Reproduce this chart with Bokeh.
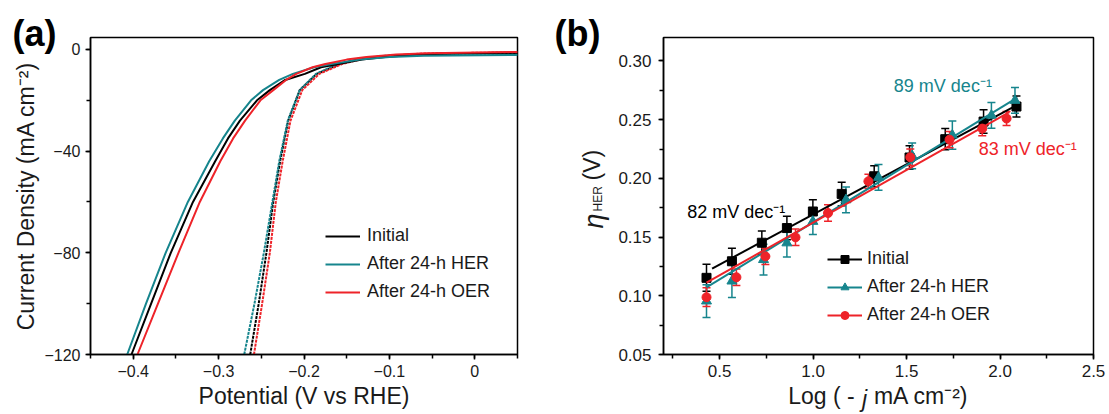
import math
from bokeh.plotting import figure
from bokeh.models import (Range1d, SingleIntervalTicker, CustomJSTickFormatter, NumeralTickFormatter,
                          Label, Legend, LegendItem, ColumnDataSource, Whisker, TeeHead, Title)
from bokeh.layouts import row
from bokeh.embed import file_html
from bokeh.resources import INLINE

FONT = "Liberation Sans"
BLACK = "#000000"
TEAL = "#16858d"
RED = "#ee2329"

# ---------------- Panel (a): polarization curves ----------------
a_init_j = [-120, -100, -80, -60, -44, -35, -28, -20, -16, -12, -9.6, -7, -5.7, -4, -3, -2, -1.5, -1.3]
a_init_v = [-0.402, -0.379, -0.356, -0.330, -0.304, -0.289, -0.275, -0.255, -0.240, -0.222, -0.199, -0.180,
            -0.160, -0.132, -0.105, -0.065, -0.020, 0.05]
a_her_j = [-120, -100, -80, -60, -44, -35, -28, -20, -16, -12, -9.6, -7, -5.7, -4, -3, -2.5, -2.2]
a_her_v = [-0.407, -0.385, -0.362, -0.336, -0.311, -0.295, -0.281, -0.262, -0.248, -0.229, -0.213, -0.188,
           -0.168, -0.135, -0.100, -0.060, 0.05]
a_oer_j = [-120, -100, -80, -60, -44, -35, -28, -20, -16, -12, -9.6, -7, -5.7, -4, -3, -2, -1.5, -1.0]
a_oer_v = [-0.395, -0.371, -0.347, -0.322, -0.298, -0.283, -0.269, -0.251, -0.236, -0.221, -0.209, -0.190,
           -0.175, -0.150, -0.127, -0.092, -0.055, 0.05]
d_init_j = [-120, -100, -80, -60, -44, -28, -16, -9.6, -5.7, -3.7, -2.5, -1.8, -1.4]
d_init_v = [-0.263, -0.253, -0.244, -0.236, -0.228, -0.2185, -0.205, -0.185, -0.158, -0.135, -0.100, -0.060, 0.05]
d_her_j = [-120, -100, -80, -60, -44, -28, -16, -9.6, -5.7, -3.7, -2.5, -2.1, -2.0]
d_her_v = [-0.270, -0.258, -0.247, -0.237, -0.229, -0.219, -0.205, -0.186, -0.160, -0.137, -0.105, -0.050, 0.05]
d_oer_j = [-120, -100, -80, -60, -44, -28, -16, -9.6, -5.7, -3.7, -2.5, -1.6, -1.1]
d_oer_v = [-0.2586, -0.249, -0.240, -0.233, -0.225, -0.2158, -0.202, -0.182, -0.155, -0.132, -0.100, -0.060, 0.05]

legend_labels = ["Initial", "After 24-h HER", "After 24-h OER"]

# ---------------- Panel (b): Tafel data ----------------
b_init_x = [0.43, 0.566, 0.726, 0.86, 0.999, 1.153, 1.327, 1.516, 1.707, 1.912, 2.088]
b_init_y = [0.1153, 0.1294, 0.1452, 0.1577, 0.1718, 0.1868, 0.2018, 0.2178, 0.2334, 0.2484, 0.2612]
b_init_e = [0.0115, 0.011, 0.010, 0.010, 0.010, 0.010, 0.009, 0.010, 0.009, 0.010, 0.009]
b_her_x = [0.43, 0.566, 0.735, 0.86, 0.999, 1.176, 1.35, 1.53, 1.745, 1.954, 2.08]
b_her_y = [0.0955, 0.1125, 0.1308, 0.145, 0.1633, 0.1817, 0.2008, 0.2192, 0.2368, 0.2537, 0.2664]
b_her_e = [0.014, 0.014, 0.013, 0.012, 0.011, 0.011, 0.011, 0.011, 0.012, 0.011, 0.011]
b_oer_x = [0.43, 0.59, 0.745, 0.906, 1.08, 1.296, 1.52, 1.73, 1.905, 2.035]
b_oer_y = [0.0988, 0.1158, 0.1336, 0.1498, 0.1705, 0.1975, 0.218, 0.233, 0.2424, 0.2510]
b_oer_e = [0.008, 0.007, 0.007, 0.007, 0.007, 0.006, 0.007, 0.007, 0.006, 0.006]
fit_init_x = [0.46, 2.09]
fit_init_y = [0.1232, 0.2625]
fit_her_x = [0.43, 2.09]
fit_her_y = [0.1072, 0.2685]
fit_oer_x = [0.43, 2.05]
fit_oer_y = [0.1112, 0.2565]
slope_texts = ["82 mV dec\u207b\u00b9", "89 mV dec\u207b\u00b9", "83 mV dec\u207b\u00b9"]
slope_pos_x = [0.327, 1.432, 1.886]
slope_pos_y = [0.171, 0.2786, 0.2249]


def style(p, tick_size):
    p.xgrid.visible = False
    p.ygrid.visible = False
    p.outline_line_color = "black"
    p.outline_line_width = 1.5
    p.outline_line_alpha = 1.0
    for ax in (p.xaxis[0], p.yaxis[0]):
        ax.axis_line_width = 1.5
        ax.axis_line_color = "black"
        ax.major_tick_line_width = 1.5
        ax.minor_tick_line_width = 1.5
        ax.major_tick_line_color = "black"
        ax.minor_tick_line_color = "black"
        ax.major_tick_in = 0
        ax.major_tick_out = 5
        ax.minor_tick_in = 0
        ax.minor_tick_out = 4
        ax.major_label_text_font = FONT
        ax.major_label_text_font_size = tick_size
        ax.major_label_text_color = "#1a1a1a"
        ax.axis_label_text_font = FONT
        ax.axis_label_text_font_size = "23px"
        ax.axis_label_text_font_style = "normal"
        ax.axis_label_text_color = "#1a1a1a"
    p.xaxis.major_label_standoff = 5
    p.xaxis.axis_label_standoff = 3


def side_text(p, place, x, y, text, size, color="#1a1a1a", style_="normal", angle=0.0, align="left",
              baseline="alphabetic"):
    p.add_layout(Label(x=x, y=y, x_units="data", y_units="data", text=text, text_font=FONT,
                       text_font_size=size, text_color=color, text_font_style=style_, angle=angle,
                       text_align=align, text_baseline=baseline), place)


def panel_tag(p, text, offset):
    p.add_layout(Title(text=text, align="left", offset=offset, standoff=-32, text_font=FONT,
                       text_font_size="36px", text_font_style="bold", text_color="black"), "above")


H = 414
# ---------------- figure (a) ----------------
pa = figure(width=519, height=H, output_backend="svg", toolbar_location=None,
            x_range=Range1d(-0.45, 0.05), y_range=Range1d(-120, 4.7),
            min_border_left=90, min_border_right=2, min_border_top=37, min_border_bottom=60,
            background_fill_color="white", border_fill_color="white")
style(pa, "16px")
pa.xaxis.ticker = SingleIntervalTicker(interval=0.1, num_minor_ticks=2)
pa.yaxis.ticker = SingleIntervalTicker(interval=40, num_minor_ticks=2)
pa.xaxis.formatter = CustomJSTickFormatter(
    code="if (Math.abs(tick) < 1e-9) { return '0'; } return tick.toFixed(1).replace('-', '\u2212');")
pa.yaxis.formatter = CustomJSTickFormatter(
    code="return Math.round(tick).toString().replace('-', '\u2212');")
pa.yaxis.major_label_standoff = 5
pa.xaxis.axis_label = "Potential (V vs RHE)"
pa.yaxis.axis_label = "Current Density (mA cm\u207b\u00b2)"
pa.yaxis.axis_label_standoff = 2

dash = "3 1"
pa.line(d_init_v, d_init_j, line_color=BLACK, line_width=2, line_dash=dash)
pa.line(d_her_v, d_her_j, line_color=TEAL, line_width=2, line_dash=dash)
pa.line(d_oer_v, d_oer_j, line_color=RED, line_width=2, line_dash=dash)
ra1 = pa.line(a_init_v, a_init_j, line_color=BLACK, line_width=2)
ra2 = pa.line(a_her_v, a_her_j, line_color=TEAL, line_width=2)
ra3 = pa.line(a_oer_v, a_oer_j, line_color=RED, line_width=2)


def make_legend(items, loc, standoff):
    leg = Legend(items=items, location=loc)
    leg.label_text_font = FONT
    leg.label_text_font_size = "18px"
    leg.label_text_color = "#1a1a1a"
    leg.glyph_width = 35
    leg.glyph_height = 20
    leg.label_height = 20
    leg.label_standoff = standoff
    leg.spacing = 7
    leg.padding = 0
    leg.margin = 0
    leg.border_line_alpha = 0
    leg.background_fill_alpha = 0
    return leg


pa.add_layout(make_legend([LegendItem(label=legend_labels[0], renderers=[ra1]),
                           LegendItem(label=legend_labels[1], renderers=[ra2]),
                           LegendItem(label=legend_labels[2], renderers=[ra3])], (235, 52), 7))
panel_tag(pa, "(a)", -78)

# ---------------- figure (b) ----------------
pb = figure(width=590, height=H, output_backend="svg", toolbar_location=None,
            x_range=Range1d(0.2, 2.5), y_range=Range1d(0.05, 0.32),
            min_border_left=144, min_border_right=16, min_border_top=37, min_border_bottom=60,
            background_fill_color="white", border_fill_color="white")
style(pb, "17px")
pb.xaxis.ticker = SingleIntervalTicker(interval=0.5, num_minor_ticks=2)
pb.yaxis.ticker = SingleIntervalTicker(interval=0.05, num_minor_ticks=2)
pb.xaxis.formatter = NumeralTickFormatter(format="0.0")
pb.yaxis.formatter = NumeralTickFormatter(format="0.00")
pb.yaxis.major_label_standoff = 7
# x title: the italic j is drawn separately into the no-break-space gap
pb.xaxis.axis_label = "Log ( - \u00a0 mA cm\u207b\u00b2)"


def series(p, xs, ys, es, fx, fy, color, marker, size):
    src = ColumnDataSource(dict(x=xs, y=ys, up=[a + b for a, b in zip(ys, es)],
                                lo=[a - b for a, b in zip(ys, es)]))
    p.add_layout(Whisker(source=src, base="x", upper="up", lower="lo", dimension="height",
                         line_color=color, line_width=1.5,
                         upper_head=TeeHead(size=8, line_color=color, line_width=1.5),
                         lower_head=TeeHead(size=8, line_color=color, line_width=1.5)))
    rl = p.line(fx, fy, line_color=color, line_width=2)
    rs = p.scatter("x", "y", source=src, marker=marker, size=size, fill_color=color, line_color=color)
    return rl, rs


l1, s1 = series(pb, b_init_x, b_init_y, b_init_e, fit_init_x, fit_init_y, BLACK, "square", 9)
l2, s2 = series(pb, b_her_x, b_her_y, b_her_e, fit_her_x, fit_her_y, TEAL, "triangle", 10)
l3, s3 = series(pb, b_oer_x, b_oer_y, b_oer_e, fit_oer_x, fit_oer_y, RED, "circle", 9)

pb.add_layout(make_legend([LegendItem(label=legend_labels[0], renderers=[l1, s1]),
                           LegendItem(label=legend_labels[1], renderers=[l2, s2]),
                           LegendItem(label=legend_labels[2], renderers=[l3, s3])], (164, 29), 5))

for t, x, y, c in zip(slope_texts, slope_pos_x, slope_pos_y, [BLACK, TEAL, RED]):
    pb.add_layout(Label(x=x, y=y, text=t, text_font=FONT, text_font_size="18px", text_color=c,
                        text_baseline="middle", text_align="left"))

panel_tag(pb, "(b)", -109)
side_text(pb, "left", -0.1744, 0.1573, "\u03b7", "27px", style_="italic", angle=math.pi / 2)
side_text(pb, "left", -0.1477, 0.1718, "HER", "12px", angle=math.pi / 2)
side_text(pb, "left", -0.1798, 0.1982, "(V)", "23px", angle=math.pi / 2)
side_text(pb, "left", 1.2617, 0.0125, "j", "23px", style_="italic", align="left")

layout = row(pa, pb)
open("out.html", "w").write(file_html(layout, INLINE, title="plot"))
